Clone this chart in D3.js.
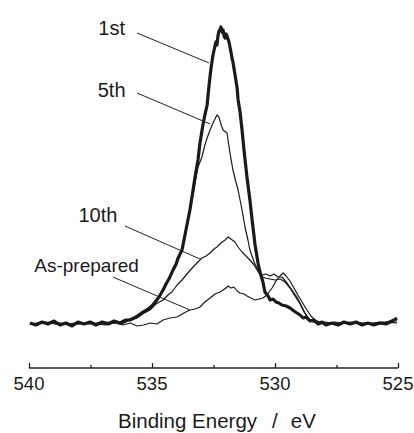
<!DOCTYPE html>
<html>
<head>
<meta charset="utf-8">
<script src="https://cdn.jsdelivr.net/npm/d3@7"></script>
<style>
  body { margin: 0; background: #fff; }
  text { font-family: "Liberation Sans", Arial, sans-serif; fill: #1a1a1a; }
</style>
</head>
<body>
<div id="chart"></div>
<script>
var width = 414;
var height = 433;

// binding energy (eV), intensity (a.u.)
var first = [
	[539.96,1],[539.72,-1],[539.47,2],[539.23,0],[538.98,3],[538.74,-1],[538.50,1],[538.25,-2],
	[538.01,2],[537.76,0],[537.52,2],[537.28,-1],[537.03,2],[536.79,0],[536.54,3],[536.30,1],
	[536.06,4],[535.89,4],[535.65,7],[535.41,11],[535.20,14],[535.00,18],[534.80,24],[534.67,29],
	[534.55,34],[534.43,40],[534.27,47],[534.15,54],[534.02,60],[533.94,66],[533.78,74],[533.66,89],
	[533.54,104],[533.46,114],[533.33,134],[533.25,147],[533.13,164],[533.05,181],[532.93,199],
	[532.85,209],[532.76,219],[532.68,239],[532.60,256],[532.52,269],[532.44,278],[532.40,282],
	[532.36,279],[532.32,288],[532.28,293],[532.24,294],[532.20,297],[532.15,292],[532.11,294],
	[532.07,288],[532.03,286],[531.99,290],[531.95,288],[531.87,282],[531.79,272],[531.75,266],
	[531.71,262],[531.63,250],[531.54,236],[531.50,224],[531.42,212],[531.34,194],[531.26,174],
	[531.14,147],[531.02,124],[530.93,104],[530.81,79],[530.69,61],[530.61,52],[530.49,42],
	[530.41,32],[530.28,28],[530.20,24],[530.08,25],[529.96,22],[529.84,21],[529.72,19],[529.55,18],
	[529.39,16],[529.23,13],[529.11,11],[528.98,9],[528.86,6],[528.74,7],[528.58,3],[528.41,4],
	[528.25,0],[528.09,2],[527.93,-1],[527.68,1],[527.44,-1],[527.20,2],[526.95,0],[526.71,2],
	[526.46,-1],[526.22,1],[525.98,-1],[525.73,1],[525.49,0],[525.33,2],[525.16,4],[525.04,6]
];

var fifth = [
	[539.96,0],[539.35,2],[538.74,-1],[538.13,1],[537.52,0],[536.91,2],[536.38,1],[536.02,4],
	[535.69,7],[535.41,12],[535.08,17],[534.84,24],[534.59,32],[534.39,41],[534.19,50],[534.02,58],
	[533.86,69],[533.70,84],[533.54,102],[533.37,124],[533.25,141],[533.13,157],[532.97,167],
	[532.85,179],[532.76,186],[532.64,194],[532.52,201],[532.44,205],[532.36,209],[532.28,207],
	[532.20,200],[532.11,194],[531.95,191],[531.83,171],[531.71,154],[531.59,142],[531.50,134],
	[531.34,114],[531.22,97],[531.10,84],[531.02,74],[530.85,62],[530.69,54],[530.53,49],[530.37,50],
	[530.20,48],[530.04,50],[529.88,47],[529.72,47],[529.51,41],[529.31,34],[529.11,27],[528.94,19],
	[528.78,11],[528.58,4],[528.33,1],[527.97,2],[527.36,0],[526.75,2],[526.14,0],[525.53,2],[525.04,4]
];

var tenth = [
	[539.96,0],[539.15,1],[538.33,-1],[537.52,1],[536.91,0],[536.50,2],[536.22,0],[535.89,4],
	[535.61,6],[535.33,11],[535.08,14],[534.84,20],[534.55,24],[534.35,29],[534.19,32],[533.98,39],
	[533.78,44],[533.58,50],[533.33,57],[533.13,62],[532.97,66],[532.80,68],[532.64,71],[532.48,75],
	[532.36,77],[532.20,81],[532.03,84],[531.91,87],[531.79,85],[531.63,82],[531.50,77],[531.34,72],
	[531.18,68],[531.02,64],[530.85,59],[530.73,54],[530.57,48],[530.41,46],[530.20,45],[530.00,44],
	[529.80,45],[529.59,42],[529.39,36],[529.19,28],[528.98,20],[528.82,12],[528.66,6],[528.46,2],
	[528.17,0],[527.56,2],[526.95,0],[526.34,1],[525.73,0],[525.04,2]
];

var asPrepared = [
	[539.96,0],[539.15,2],[538.33,0],[537.52,1],[536.91,-1],[536.50,1],[536.18,-1],[535.89,1],
	[535.61,-2],[535.33,-1],[535.08,1],[534.80,0],[534.55,4],[534.27,6],[533.98,7],[533.70,11],
	[533.46,14],[533.25,15],[533.05,17],[532.85,22],[532.64,26],[532.44,30],[532.24,32],[532.11,34],
	[531.99,36],[531.91,38],[531.79,36],[531.67,37],[531.54,33],[531.42,31],[531.26,30],[531.14,28],
	[530.98,26],[530.81,24],[530.65,25],[530.49,26],[530.33,29],[530.12,36],[529.96,43],[529.80,48],
	[529.67,51],[529.55,48],[529.39,43],[529.23,36],[529.07,29],[528.90,22],[528.70,14],[528.54,8],
	[528.37,4],[528.09,1],[527.56,0],[526.95,2],[526.34,0],[525.73,2],[525.04,1]
];

var seriesNames = ["1st", "5th", "10th", "As-prepared"];
var seriesData = [first, fifth, tenth, asPrepared];
var strokeWidths = [3.2, 1.2, 1.2, 1.2];

// label text position and leader start/end, in data units
var labelPos = [
	{name: "1st", tx: 536.64, ty: 289, lx: 535.61, ly: 291, ex: 532.68, ey: 261},
	{name: "5th", tx: 536.64, ty: 227, lx: 535.61, ly: 231, ex: 532.64, ey: 200},
	{name: "10th", tx: 537.20, ty: 102, lx: 536.10, ly: 98, ex: 533.05, ey: 65},
	{name: "As-prepared", tx: 537.66, ty: 52, lx: 536.59, ly: 47, ex: 533.46, ey: 14}
];

var xTicks = [540, 535, 530, 525];
var xMinor = [537.5, 532.5, 527.5];

var x = d3.scaleLinear()
	.domain([540, 525])
	.range([29, 398]);

var y = d3.scaleLinear()
	.domain([0, 300])
	.range([324, 24]);

var svg = d3.select("#chart")
	.append("svg")
	.attr("width", width)
	.attr("height", height);

// curves ------------------------------------------
var line = d3.line()
	.x(function(d) { return x(d[0]); })
	.y(function(d) { return y(d[1]); });

svg.selectAll("path.curve")
	.data(seriesData)
	.enter()
	.append("path")
		.attr("class", "curve")
		.attr("d", line)
		.attr("fill", "none")
		.attr("stroke", "#1a1a1a")
		.attr("stroke-linejoin", "round")
		.attr("stroke-width", function(d, i) { return strokeWidths[i]; });

// labels ------------------------------------------
svg.selectAll("line.leader")
	.data(labelPos)
	.enter()
	.append("line")
		.attr("class", "leader")
		.attr("x1", function(d) { return x(d.lx); })
		.attr("y1", function(d) { return y(d.ly); })
		.attr("x2", function(d) { return x(d.ex); })
		.attr("y2", function(d) { return y(d.ey); })
		.attr("stroke", "#222")
		.attr("stroke-width", 1);

svg.selectAll("text.label")
	.data(labelPos)
	.enter()
	.append("text")
		.attr("class", "label")
		.attr("x", function(d) { return x(d.tx); })
		.attr("y", function(d) { return y(d.ty); })
		.attr("text-anchor", "middle")
		.style("font-size", function(d) { return d.name == "As-prepared" ? "19px" : "20px"; })
		.text(function(d) { return d.name; });

// axis --------------------------------------------
var axisY = 368;
var axis = svg.append("g")
	.attr("transform", "translate(0," + axisY + ")")
	.call(d3.axisTop(x)
		.tickValues(xTicks)
		.tickSize(5)
		.tickFormat(""));

axis.select(".domain")
	.attr("d", "M" + x(540) + ",0H" + x(525))
	.attr("stroke", "#222")
	.attr("stroke-width", 1.3);
axis.selectAll(".tick line").attr("stroke", "#222").attr("stroke-width", 1.3);

svg.append("g")
	.attr("transform", "translate(0," + axisY + ")")
	.call(d3.axisTop(x).tickValues(xMinor).tickSize(3).tickFormat(""))
	.call(function(g) { g.select(".domain").remove(); })
	.selectAll(".tick line").attr("stroke", "#222").attr("stroke-width", 1.3);

svg.selectAll("text.tick-label")
	.data(xTicks)
	.enter()
	.append("text")
		.attr("class", "tick-label")
		.attr("x", function(d) { return x(d); })
		.attr("y", 390)
		.attr("text-anchor", "middle")
		.style("font-size", "18.5px")
		.text(function(d) { return d; });

var title = svg.append("text")
	.attr("x", 118)
	.attr("y", 428)
	.style("font-size", "20.5px")
	.text("Binding Energy");
title.append("tspan").attr("dx", 15).text("/");
title.append("tspan").attr("dx", 13).text("eV");
</script>
</body>
</html>
